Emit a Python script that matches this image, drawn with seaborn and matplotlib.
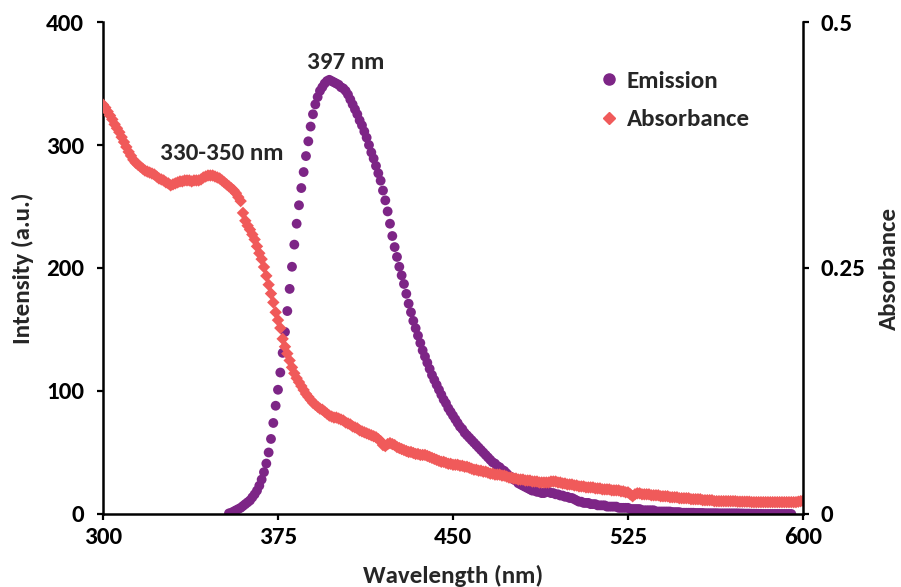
import numpy as np
import pandas as pd
import matplotlib
matplotlib.use("Agg")
import matplotlib.pyplot as plt
import seaborn as sns
from matplotlib.lines import Line2D

# ---------------- data ----------------
emission_start_nm = 354
emission_intensity = [
    0.5, 1, 2, 3, 4, 5, 6.5, 8, 9.5, 11,                     # 354-363
    13.5, 16, 19, 23, 28, 34, 41, 50, 61, 74,                # 364-373
    88, 101, 115, 131, 148, 165, 183, 201, 219, 236,         # 374-383
    251, 265, 278, 291, 303, 315, 325, 333, 339, 344,        # 384-393
    347, 350, 352, 353, 352, 351, 350, 349, 347, 346,        # 394-403
    344, 341, 337, 333, 329, 325, 320, 316, 311, 306,        # 404-413
    300, 294, 289, 283, 277, 271, 263, 255, 246, 236,        # 414-423
    226, 217, 209, 201, 194, 187, 179, 171, 164, 157,        # 424-433
    151, 145, 139, 133, 128, 123, 118, 113, 109, 105,        # 434-443
    101, 97, 93, 90, 86, 83, 80, 77, 74, 71,                 # 444-453
    69, 66, 64, 62, 60, 58, 56, 54, 52, 50,                  # 454-463
    48, 46, 44, 42, 41, 39, 38, 36, 35, 33,                  # 464-473
    31, 30, 28, 27, 25, 24, 23, 22, 21, 20,                  # 474-483
    19, 19, 18, 18, 17, 17, 18, 18, 17, 17,                  # 484-493
    16, 16, 15, 15, 14, 14, 13, 13, 12, 11,                  # 494-503
    10, 10, 9, 9, 9, 8, 8, 8, 7, 7,                          # 504-513
    7, 7, 6, 6, 6, 6, 6, 5, 5, 5,                            # 514-523
    5, 5, 4, 4, 4, 4, 4, 3, 3, 3,                            # 524-533
    3, 3, 3, 2, 2, 2, 2, 2, 2, 2,                            # 534-543
    1.5, 1.5, 1.5, 1.5, 1, 1, 1, 1, 1, 1,                    # 544-553
    0.8, 0.8, 0.8, 0.8, 0.6, 0.6, 0.6, 0.6, 0.6, 0.6,        # 554-563
    0.5, 0.5, 0.5, 0.5, 0.5, 0.5, 0.5, 0.5, 0.5, 0.4,        # 564-573
    0.4, 0.3, 0.3, 0.3, 0.2, 0.2, 0.2, 0.1, 0.1, 0,          # 574-583
    0, 0, 0, 0, 0, 0, 0, 0, 0, 0,                            # 584-593
    0, 0,                                                    # 594-595
]

absorbance_start_nm = 300
absorbance = [
    0.416, 0.413, 0.409, 0.405, 0.401, 0.396, 0.392, 0.388, 0.383, 0.378,
    0.373, 0.368, 0.364, 0.360, 0.357, 0.355, 0.353, 0.351, 0.349, 0.348,
    0.347, 0.346, 0.345, 0.343, 0.341, 0.340, 0.339, 0.337, 0.336, 0.334,
    0.335, 0.336, 0.337, 0.338, 0.338, 0.339, 0.339, 0.339, 0.338, 0.339,
    0.339, 0.339, 0.340, 0.342, 0.343, 0.344, 0.344, 0.344, 0.343, 0.342,
    0.341, 0.339, 0.337, 0.335, 0.333, 0.331, 0.329, 0.326, 0.322, 0.318,
    0.306, 0.298, 0.293, 0.289, 0.284, 0.279, 0.272, 0.265, 0.259, 0.251,
    0.242, 0.233, 0.224, 0.215, 0.205, 0.197, 0.189, 0.178, 0.170, 0.163,
    0.156, 0.149, 0.143, 0.138, 0.134, 0.130, 0.126, 0.122, 0.119, 0.116,
    0.113, 0.111, 0.109, 0.107, 0.106, 0.104, 0.102, 0.100, 0.099, 0.098,
    0.098, 0.097, 0.096, 0.095, 0.093, 0.092, 0.091, 0.089, 0.088, 0.087,
    0.085, 0.084, 0.083, 0.082, 0.081, 0.080, 0.079, 0.078, 0.076, 0.074,
    0.070, 0.069, 0.071, 0.072, 0.071, 0.070, 0.068, 0.067, 0.066, 0.065,
    0.064, 0.063, 0.063, 0.062, 0.061, 0.061, 0.060, 0.060, 0.060, 0.059,
    0.058, 0.057, 0.056, 0.055, 0.054, 0.053, 0.053, 0.052, 0.051, 0.051,
    0.050, 0.050, 0.050, 0.049, 0.049, 0.048, 0.048, 0.047, 0.046, 0.045,
    0.045, 0.044, 0.044, 0.043, 0.043, 0.042, 0.041, 0.041, 0.040, 0.040,
    0.040, 0.039, 0.039, 0.038, 0.037, 0.037, 0.036, 0.036, 0.035, 0.035,
    0.035, 0.034, 0.034, 0.034, 0.033, 0.033, 0.033, 0.032, 0.032, 0.032,
    0.032, 0.032, 0.033, 0.033, 0.033, 0.032, 0.032, 0.031, 0.031, 0.030,
    0.030, 0.030, 0.029, 0.029, 0.028, 0.028, 0.028, 0.027, 0.027, 0.027,
    0.027, 0.026, 0.026, 0.026, 0.025, 0.025, 0.025, 0.025, 0.024, 0.024,
    0.024, 0.024, 0.023, 0.023, 0.022, 0.022, 0.020, 0.018, 0.020, 0.021,
    0.021, 0.020, 0.020, 0.020, 0.020, 0.019, 0.019, 0.019, 0.019, 0.018,
    0.018, 0.018, 0.018, 0.017, 0.017, 0.017, 0.017, 0.016, 0.016, 0.016,
    0.016, 0.016, 0.015, 0.015, 0.015, 0.015, 0.015, 0.014, 0.014, 0.014,
    0.014, 0.014, 0.013, 0.013, 0.013, 0.013, 0.013, 0.013, 0.013, 0.013,
    0.013, 0.013, 0.0125, 0.0125, 0.0125, 0.0125, 0.0125, 0.0125, 0.012, 0.012,
    0.012, 0.012, 0.012, 0.012, 0.012, 0.012, 0.012, 0.012, 0.012, 0.012,
    0.012, 0.012, 0.012, 0.012, 0.012, 0.012, 0.012, 0.012, 0.0125, 0.013,
    0.0135,
]

x_ticks = [300, 375, 450, 525, 600]
y_left_ticks = [0, 100, 200, 300, 400]
y_right_ticks = [0, 0.25, 0.5]
y_right_labels = ["0", "0.25", "0.5"]

peak_label = "397 nm"
band_label = "330-350 nm"

# ---------------- frames ----------------
em_df = pd.DataFrame({
    "Wavelength": np.arange(emission_start_nm, emission_start_nm + len(emission_intensity)),
    "Intensity": emission_intensity,
})
ab_df = pd.DataFrame({
    "Wavelength": np.arange(absorbance_start_nm, absorbance_start_nm + len(absorbance)),
    "Absorbance": absorbance,
})

# ---------------- style ----------------
sns.set_theme(style="white")
plt.rcParams["font.family"] = ["Carlito", "DejaVu Sans"]
plt.rcParams["font.weight"] = "bold"
plt.rcParams["axes.labelweight"] = "bold"

purple = "#7D2586"
coral = "#F05A5A"
FS = 18

fig = plt.figure(figsize=(9.01, 5.87), dpi=100)
ax = fig.add_axes([0.1143, 0.1244, 0.7769, 0.8381])
ax2 = ax.twinx()

sns.scatterplot(data=em_df, x="Wavelength", y="Intensity", ax=ax,
                color=purple, s=50, edgecolor="none", marker="o", legend=False)
sns.scatterplot(data=ab_df, x="Wavelength", y="Absorbance", ax=ax2,
                color=coral, s=40, edgecolor="none", marker="D", legend=False)

ax.set_xlim(300, 600)
ax.set_ylim(0, 400)
ax2.set_ylim(0, 0.5)
ax.set_xticks(x_ticks)
ax.set_yticks(y_left_ticks)
ax2.set_yticks(y_right_ticks)
ax2.set_yticklabels(y_right_labels)

for a in (ax, ax2):
    a.spines["top"].set_visible(False)
    for side in ("left", "bottom", "right"):
        a.spines[side].set_linewidth(1.8)
        a.spines[side].set_color("black")
ax.spines["right"].set_visible(False)
ax2.spines["left"].set_visible(False)
ax2.spines["bottom"].set_visible(False)

ax.tick_params(axis="x", direction="out", length=4.5, width=1.6,
               labelsize=FS, colors="black", pad=5, bottom=True)
ax.tick_params(axis="y", direction="out", length=4.5, width=1.6,
               labelsize=FS, colors="black", pad=9, left=True)
ax2.tick_params(axis="y", direction="out", length=4.5, width=1.6,
                labelsize=FS, colors="black", right=True, pad=8)
for lab in ax.get_xticklabels() + ax.get_yticklabels() + ax2.get_yticklabels():
    lab.set_fontweight("bold")

ax.set_xlabel("Wavelength (nm)", fontsize=FS, fontweight="bold")
ax.set_ylabel("Intensity (a.u.)", fontsize=FS, fontweight="bold")
ax2.set_ylabel("Absorbance", fontsize=FS, fontweight="bold")
ax.xaxis.label.set_va("center")
ax.yaxis.label.set_va("center")
ax2.yaxis.label.set_va("center")
ax.xaxis.set_label_coords(0.5, -0.126)
ax.yaxis.set_label_coords(-0.114, 0.5)
ax2.yaxis.set_label_coords(1.124, 0.5)
ax.grid(False)
ax2.grid(False)

ax.text(404, 367, peak_label, ha="center", va="center", fontsize=FS, fontweight="bold")
ax.text(351, 293, band_label, ha="center", va="center", fontsize=FS, fontweight="bold")

handles = [
    Line2D([], [], linestyle="none", marker="o", markersize=8, color=purple, label="Emission"),
    Line2D([], [], linestyle="none", marker="D", markersize=6, color=coral, label="Absorbance"),
]
ax2.legend(handles=handles, loc="upper left", bbox_to_anchor=(0.691, 0.922),
           frameon=False, handletextpad=0.2, handlelength=1.0, labelspacing=0.68,
           borderaxespad=0,
           prop={"family": "Carlito", "weight": "bold", "size": FS})

fig.savefig("out.png", dpi=100)
